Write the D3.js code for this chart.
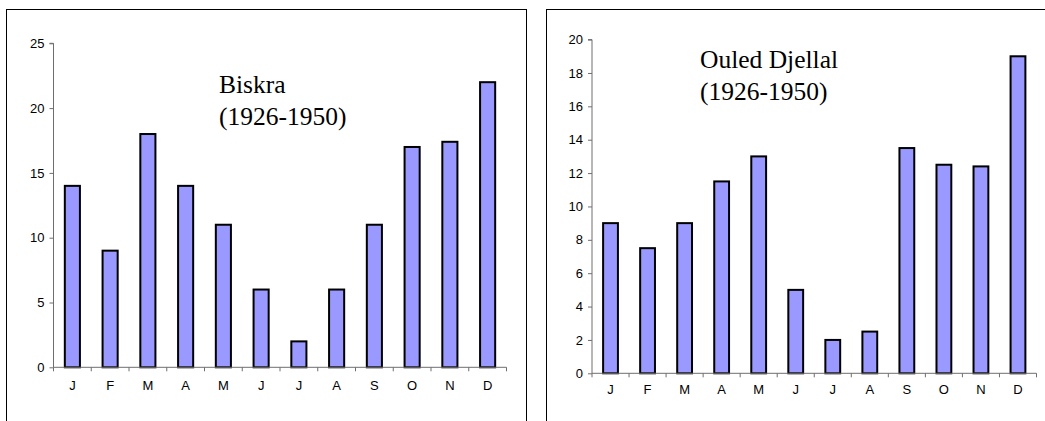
<!DOCTYPE html>
<html>
<head>
<meta charset="utf-8">
<script src="https://cdn.jsdelivr.net/npm/d3@7"></script>
<style>
	body { margin: 0; background: #fff; }
	svg { display: block; }
	.title { font-family: "Liberation Serif", "Times New Roman", serif; font-size: 25.5px; fill: #000; }
</style>
</head>
<body>
<svg id="chart" width="1045" height="421"></svg>
<script>
var months = ["J", "F", "M", "A", "M", "J", "J", "A", "S", "O", "N", "D"];
var biskraValues = [14, 9, 18, 14, 11, 6, 2, 6, 11, 17, 17.4, 22];
var djellalValues = [9, 7.5, 9, 11.5, 13, 5, 2, 2.5, 13.5, 12.5, 12.4, 19];
var biskraTicks = [0, 5, 10, 15, 20, 25];
var djellalTicks = [0, 2, 4, 6, 8, 10, 12, 14, 16, 18, 20];

var svg = d3.select("#chart");
var tickFont = "Liberation Sans, Arial, sans-serif";

function drawPanel(opt) {
	var g = svg.append("g");
	// frame of the panel (runs off the bottom / right of the picture)
	g.append("rect")
		.attr("x", opt.frame[0] + 0.5)
		.attr("y", opt.frame[1] + 0.5)
		.attr("width", opt.frame[2])
		.attr("height", opt.frame[3])
		.attr("fill", "#fff")
		.attr("stroke", "#000")
		.attr("stroke-width", 1);

	var x = d3.scaleBand()
		.domain(d3.range(opt.values.length))
		.range([opt.left, opt.right])
		.paddingInner(0.6)
		.paddingOuter(0.3);
	var y = d3.scaleLinear()
		.domain([0, opt.max])
		.range([opt.bottom, opt.top]);

	// bars
	g.selectAll("rect.bar")
		.data(opt.values)
		.enter()
		.append("rect")
		.attr("class", "bar")
		.attr("x", function(d, i) { return x(i); })
		.attr("y", function(d) { return y(d); })
		.attr("width", x.bandwidth())
		.attr("height", function(d) { return y(0) - y(d); })
		.attr("fill", "#9999ff")
		.attr("stroke", "#000")
		.attr("stroke-width", 2);

	// y axis
	var yAxis = g.append("g")
		.attr("transform", "translate(" + opt.left + ",0)")
		.call(d3.axisLeft(y).tickValues(opt.ticks).tickSize(4).tickPadding(5).tickFormat(d3.format("d")))
		.attr("font-family", tickFont)
		.attr("font-size", 13);
	yAxis.selectAll("line, path").attr("stroke", "#6e6e6e");
	yAxis.select(".domain").attr("d", "M0," + y(opt.max) + "H-4M0," + y(opt.max) + "V" + y(0));

	// x axis: labels centred on the bars, tick marks between categories
	var xAxis = g.append("g")
		.attr("transform", "translate(0," + opt.bottom + ")")
		.call(d3.axisBottom(x).tickSize(0).tickPadding(opt.labelPad).tickFormat(function(i) { return months[i]; }))
		.attr("font-family", tickFont)
		.attr("font-size", 13);
	xAxis.select(".domain").attr("stroke", "#6e6e6e").attr("d", "M" + opt.left + ",0H" + opt.right);
	g.append("g")
		.selectAll("line")
		.data(d3.range(opt.values.length + 1))
		.enter()
		.append("line")
		.attr("x1", function(i) { return opt.left + i * x.step(); })
		.attr("x2", function(i) { return opt.left + i * x.step(); })
		.attr("y1", opt.bottom)
		.attr("y2", opt.bottom + 4)
		.attr("stroke", "#6e6e6e");

	// title
	var t = g.append("text")
		.attr("class", "title")
		.attr("x", opt.titleX)
		.attr("y", opt.titleY);
	t.append("tspan").attr("x", opt.titleX).text(opt.title[0]);
	t.append("tspan").attr("x", opt.titleX).attr("dy", 32).text(opt.title[1]);
}

drawPanel({
	frame: [6, 9, 520, 430],
	left: 53.5, right: 506.5, top: 43.3, bottom: 367.3,
	max: 25, ticks: biskraTicks, values: biskraValues,
	labelPad: 13,
	title: ["Biskra", "(1926-1950)"], titleX: 219, titleY: 92.7
});

drawPanel({
	frame: [546, 9, 520, 430],
	left: 592, right: 1036.5, top: 39.6, bottom: 373.3,
	max: 20, ticks: djellalTicks, values: djellalValues,
	labelPad: 11,
	title: ["Ouled Djellal", "(1926-1950)"], titleX: 700, titleY: 68.3
});
</script>
</body>
</html>
